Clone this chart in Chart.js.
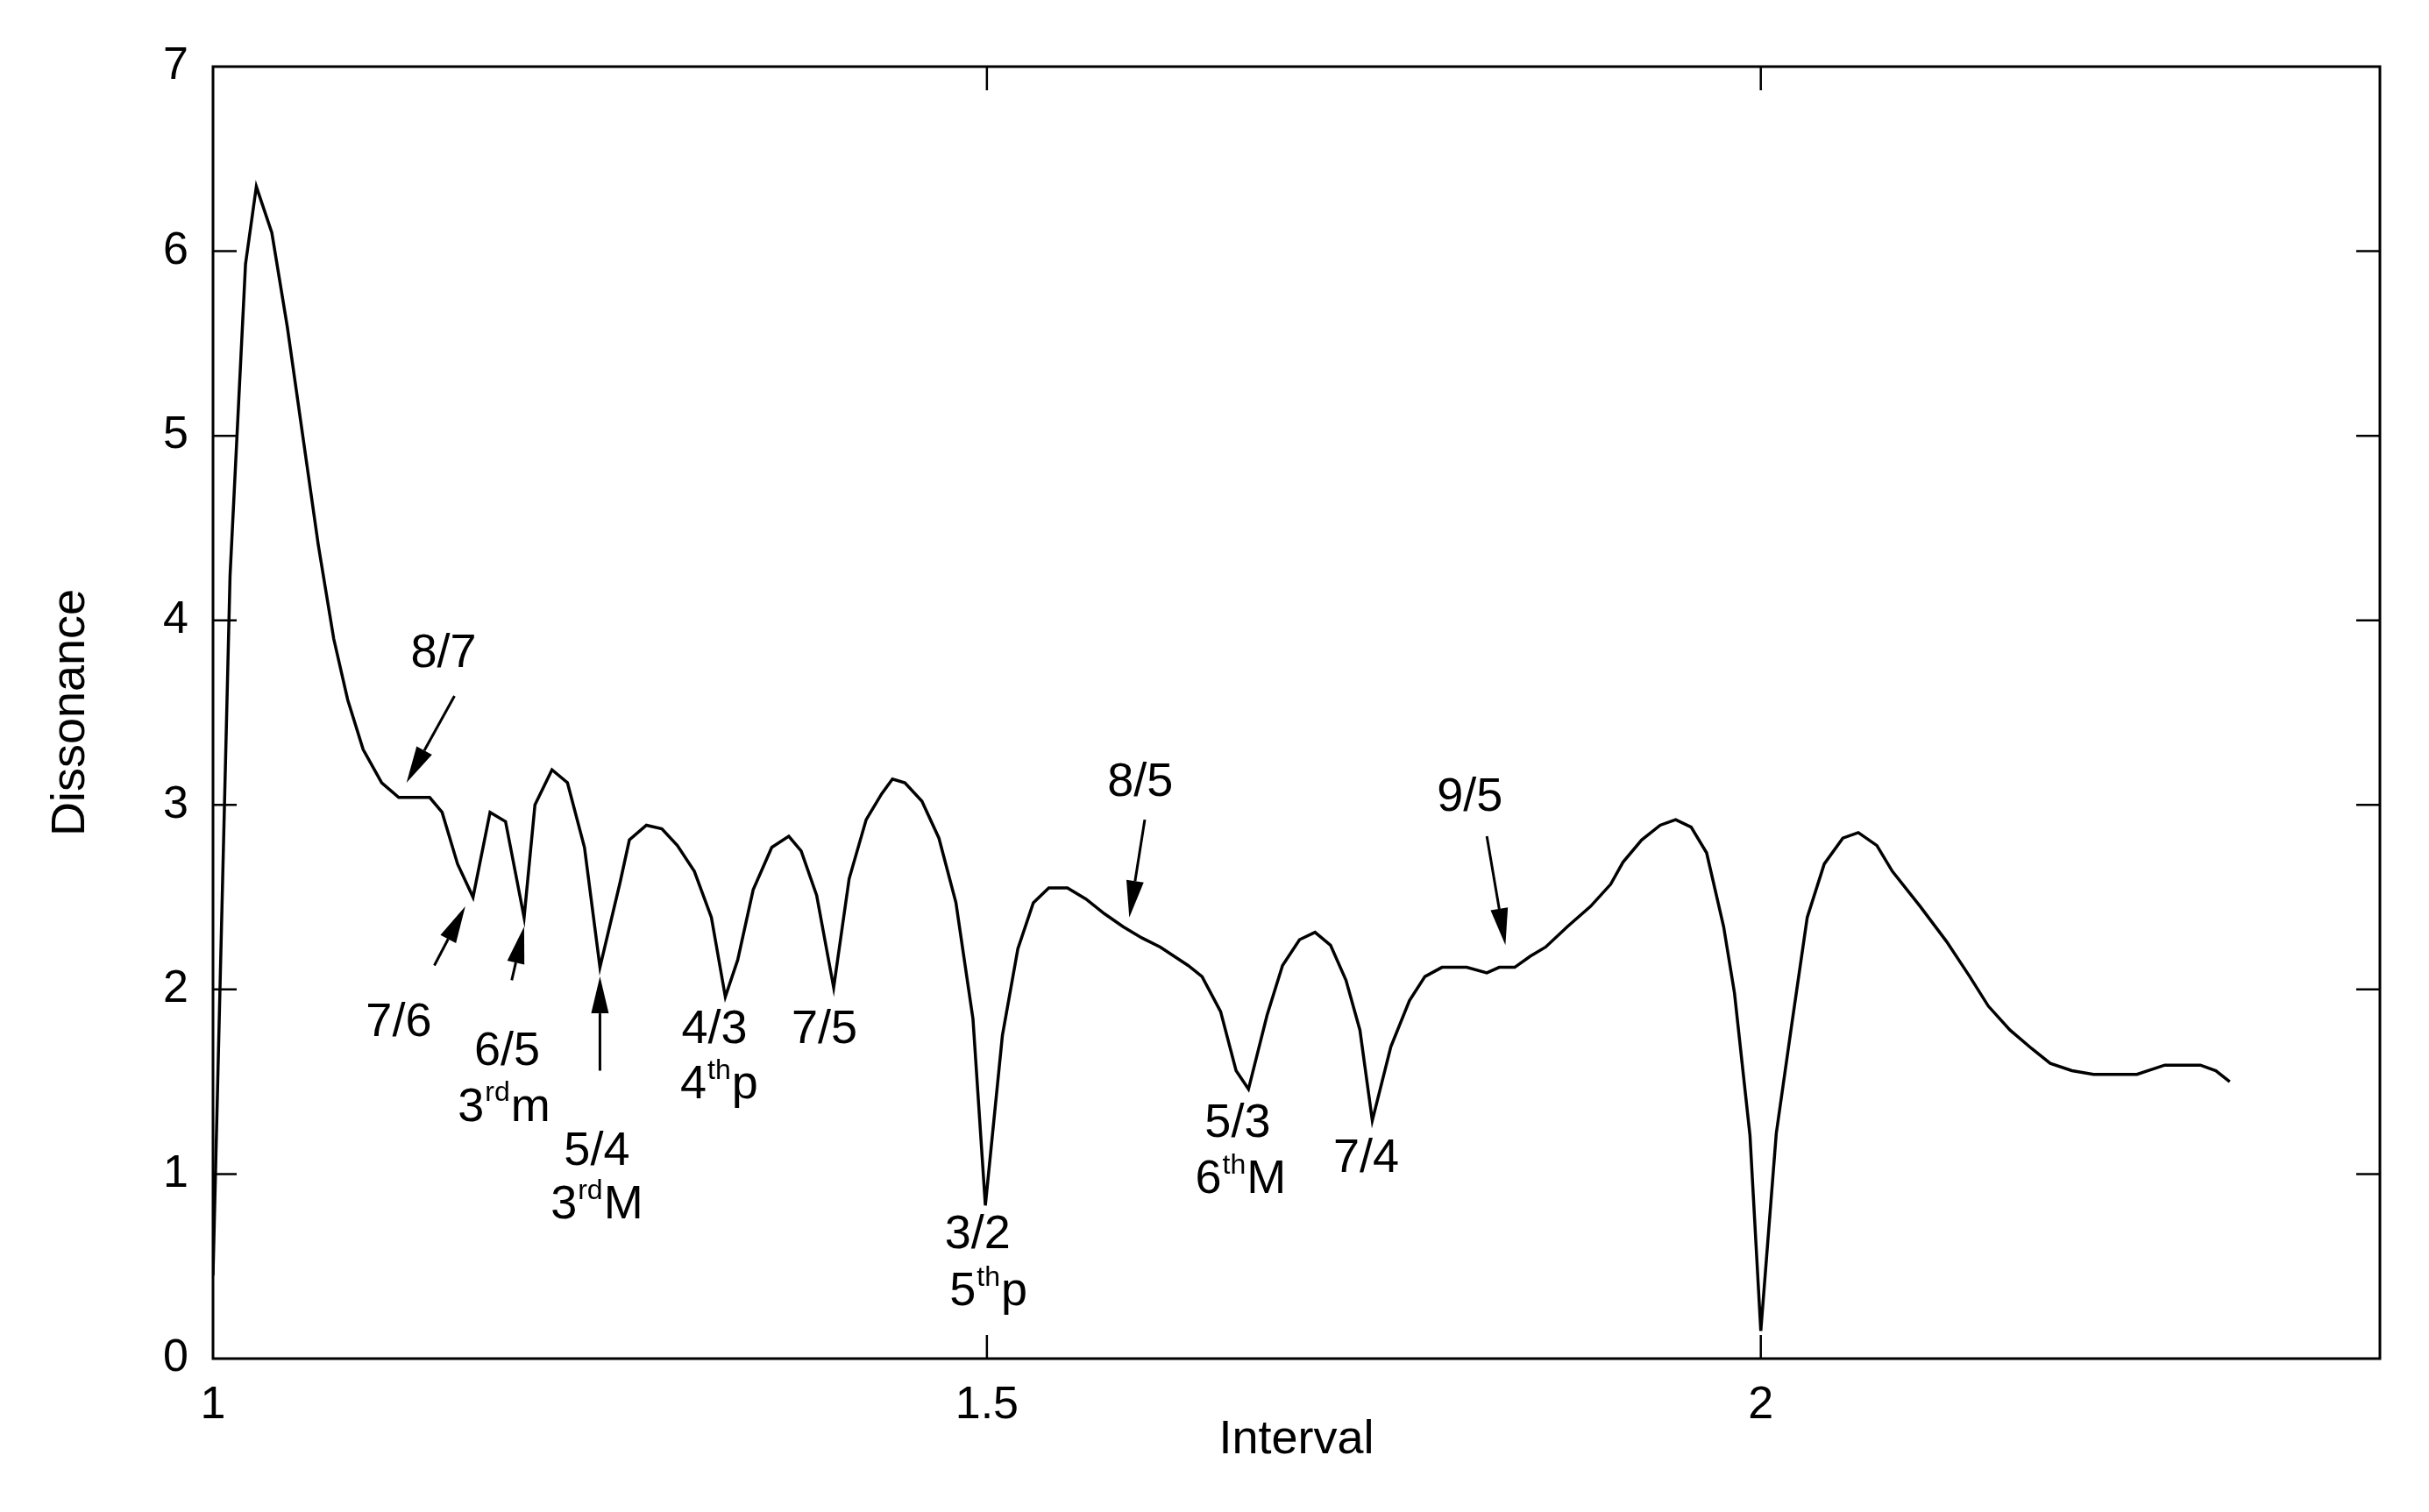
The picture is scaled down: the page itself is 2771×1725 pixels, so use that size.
<!DOCTYPE html>
<html><head><meta charset="utf-8">
<script src="https://cdn.jsdelivr.net/npm/chart.js@4"></script>
<style>html,body{margin:0;padding:0;background:#fff}</style>
</head><body>
<canvas id="c" width="2771" height="1725"></canvas>
<script>
const intervals = [1.000,1.011,1.021,1.028,1.038,1.048,1.058,1.068,1.078,1.087,1.097,1.109,1.120,1.140,1.148,1.158,1.168,1.179,1.189,1.201,1.208,1.219,1.229,1.240,1.250,1.263,1.269,1.280,1.290,1.300,1.311,1.322,1.331,1.339,1.349,1.361,1.372,1.380,1.390,1.401,1.411,1.422,1.432,1.439,1.447,1.458,1.469,1.480,1.491,1.499,1.510,1.520,1.530,1.540,1.552,1.564,1.576,1.588,1.600,1.612,1.621,1.630,1.639,1.651,1.661,1.669,1.681,1.691,1.702,1.712,1.722,1.732,1.741,1.749,1.761,1.773,1.783,1.794,1.810,1.823,1.831,1.841,1.851,1.861,1.875,1.890,1.903,1.911,1.923,1.935,1.945,1.955,1.965,1.976,1.983,1.993,2.000,2.010,2.020,2.030,2.041,2.053,2.063,2.075,2.085,2.103,2.120,2.135,2.147,2.161,2.175,2.187,2.201,2.215,2.243,2.261,2.284,2.294,2.303];
const dissonance = [0.45,4.24,5.93,6.35,6.10,5.59,5.00,4.41,3.90,3.57,3.30,3.12,3.04,3.04,2.96,2.68,2.50,2.96,2.91,2.39,3.00,3.19,3.12,2.77,2.12,2.58,2.81,2.89,2.87,2.78,2.64,2.39,1.96,2.16,2.54,2.77,2.83,2.75,2.51,2.01,2.60,2.92,3.06,3.14,3.12,3.02,2.82,2.47,1.84,0.83,1.75,2.22,2.47,2.55,2.55,2.49,2.41,2.34,2.28,2.23,2.18,2.13,2.07,1.88,1.56,1.46,1.86,2.13,2.27,2.31,2.24,2.05,1.78,1.29,1.69,1.94,2.07,2.12,2.12,2.09,2.12,2.12,2.18,2.23,2.34,2.45,2.57,2.69,2.81,2.89,2.92,2.88,2.74,2.34,1.98,1.21,0.15,1.22,1.81,2.39,2.68,2.82,2.85,2.78,2.64,2.45,2.26,2.07,1.91,1.78,1.68,1.60,1.56,1.54,1.54,1.59,1.59,1.56,1.50];
const xTicks = [1, 1.5, 2];
const yTicks = [0,1,2,3,4,5,6,7];
// labels: [x, y, base, superscript, suffix]
const labels = [
 [1.149,3.82,'8/7','',''],[1.120,1.82,'7/6','',''],
 [1.190,1.66,'6/5','',''],[1.188,1.36,'3','rd','m'],
 [1.248,1.12,'5/4','',''],[1.248,0.83,'3','rd','M'],
 [1.324,1.78,'4/3','',''],[1.327,1.48,'4','th','p'],
 [1.395,1.78,'7/5','',''],
 [1.494,0.67,'3/2','',''],[1.501,0.36,'5','th','p'],
 [1.599,3.12,'8/5','',''],
 [1.662,1.27,'5/3','',''],[1.664,0.97,'6','th','M'],
 [1.745,1.08,'7/4','',''],[1.812,3.04,'9/5','','']
];
// arrows: [fromX, fromY, toX, toY]
const arrows = [
 [1.156,3.59,1.125,3.12],[1.143,2.13,1.163,2.45],[1.193,2.05,1.201,2.34],
 [1.250,1.56,1.250,2.07],[1.602,2.92,1.592,2.39],[1.823,2.83,1.835,2.24]
];
const FONT = '"Liberation Sans", Arial, sans-serif';
const deco = {
 id:'deco',
 afterDraw(chart){
  const c=chart.ctx, a=chart.chartArea, xs=chart.scales.x, ys=chart.scales.y;
  c.save();
  c.strokeStyle='#000'; c.lineWidth=3;
  c.strokeRect(a.left,a.top,a.right-a.left,a.bottom-a.top);
  c.lineWidth=2.5; const L=27;
  c.beginPath();
  yTicks.forEach(v=>{const y=ys.getPixelForValue(v); if(v>0&&v<7){c.moveTo(a.left,y);c.lineTo(a.left+L,y);c.moveTo(a.right,y);c.lineTo(a.right-L,y);}});
  xTicks.forEach(v=>{const x=xs.getPixelForValue(v); if(v>1){c.moveTo(x,a.bottom);c.lineTo(x,a.bottom-L);c.moveTo(x,a.top);c.lineTo(x,a.top+L);}});
  c.stroke();
  c.fillStyle='#000'; c.textBaseline='middle';
  labels.forEach(([x,y,b,s,t])=>{
   const px=xs.getPixelForValue(x), py=ys.getPixelForValue(y);
   c.font='54px '+FONT; const wb=c.measureText(b).width, wt=c.measureText(t).width;
   c.font='32px '+FONT; const ws=s?c.measureText(s).width+2:0;
   let sx=px-(wb+ws+wt)/2;
   c.textAlign='left'; c.font='54px '+FONT; c.fillText(b,sx,py);
   if(s){c.font='32px '+FONT; c.fillText(s,sx+wb+1,py-16); c.font='54px '+FONT; c.fillText(t,sx+wb+ws,py);}
  });
  arrows.forEach(([x1,y1,x2,y2])=>{
   const ax=xs.getPixelForValue(x1), ay=ys.getPixelForValue(y1), bx=xs.getPixelForValue(x2), by=ys.getPixelForValue(y2);
   const ang=Math.atan2(by-ay,bx-ax), H=42, W=10;
   const hx=bx-H*Math.cos(ang), hy=by-H*Math.sin(ang);
   c.lineWidth=3; c.beginPath(); c.moveTo(ax,ay); c.lineTo(hx,hy); c.stroke();
   c.beginPath(); c.moveTo(bx,by);
   c.lineTo(hx+W*Math.sin(ang),hy-W*Math.cos(ang));
   c.lineTo(hx-W*Math.sin(ang),hy+W*Math.cos(ang));
   c.closePath(); c.fill();
  });
  c.restore();
 }
};
new Chart(document.getElementById('c'),{
 type:'line',
 data:{datasets:[{data:intervals.map((x,i)=>({x,y:dissonance[i]})),borderColor:'#000',borderWidth:3.5,pointRadius:0,tension:0,fill:false}]},
 options:{
  responsive:false, animation:false, devicePixelRatio:1,
  layout:{padding:{top:76,right:56,left:45,bottom:45}},
  plugins:{legend:{display:false},tooltip:{enabled:false}},
  scales:{
   x:{type:'linear',min:1,max:2.4,
      afterBuildTicks(s){s.ticks=xTicks.map(v=>({value:v}));},
      afterFit(s){s.height=130;},
      grid:{display:false},border:{display:false},
      ticks:{color:'#000',font:{family:FONT,size:52},padding:14,maxRotation:0,callback:v=>String(v)},
      title:{display:true,text:'Interval',color:'#000',font:{family:FONT,size:54},padding:{top:0}}},
   y:{type:'linear',min:0,max:7,
      afterBuildTicks(s){s.ticks=yTicks.map(v=>({value:v}));},
      afterFit(s){s.width=198;},
      grid:{display:false},border:{display:false},
      ticks:{color:'#000',font:{family:FONT,size:52},padding:20,callback:v=>String(v)},
      title:{display:true,text:'Dissonance',color:'#000',font:{family:FONT,size:54},padding:{bottom:10}}}
  }
 },
 plugins:[deco]
});
</script>
</body></html>
